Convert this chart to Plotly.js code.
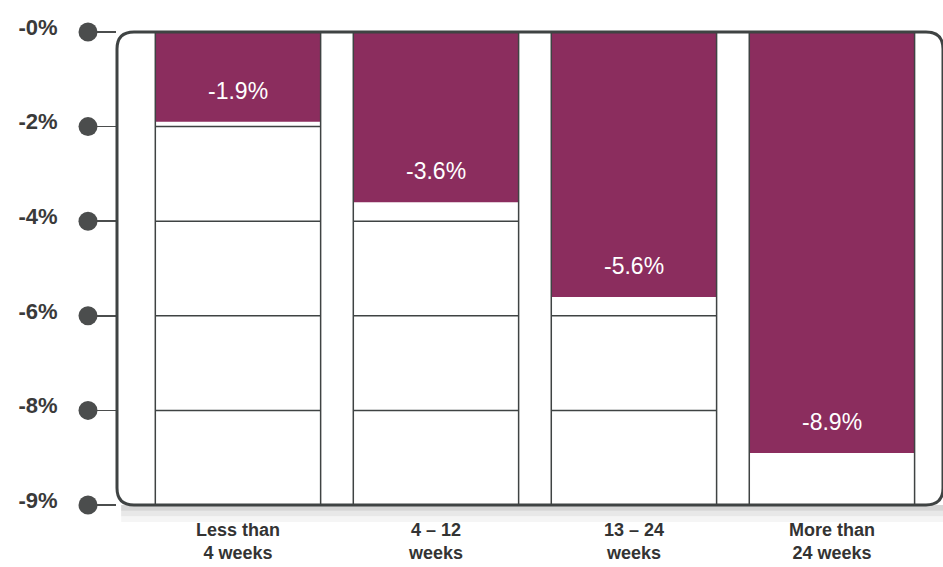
<!DOCTYPE html>
<html>
<head>
<meta charset="utf-8">
<script src="https://cdn.plot.ly/plotly-3.0.1.min.js"></script>
<style>
html,body{margin:0;padding:0;background:#fff;}
#chart{width:943px;height:567px;}
</style>
</head>
<body>
<div id="chart"></div>
<script>
// ---- data ----
const categories = ['Less than<br>4 weeks', '4 – 12<br>weeks', '13 – 24<br>weeks', 'More than<br>24 weeks'];
const values = [-1.9, -3.6, -5.6, -8.9];
const yTickVals = [0, -2, -4, -6, -8, -10];
const yTickText = ['-0%', '-2%', '-4%', '-6%', '-8%', '-9%'];
const gridVals = [-2, -4, -6, -8];

// ---- style ----
const purple = '#8b2d5e';
const dark = '#3f4343';
const yMin = -10, yMax = 0;
const colWidth = 0.835;
const xIdx = categories.map((_, i) => i);
const fam = 'Liberation Sans, Arial, sans-serif';

const traces = [
  {
    type: 'bar', x: xIdx, y: values, width: colWidth,
    marker: {color: purple, line: {width: 0}},
    hoverinfo: 'skip', showlegend: false
  },
  {
    type: 'bar', x: xIdx, y: categories.map(() => yMin), width: colWidth,
    marker: {color: 'rgba(0,0,0,0)', line: {color: dark, width: 1.5}},
    hoverinfo: 'skip', showlegend: false
  }
];

const shapes = [];
// gridlines inside each column (drawn below, covered by the bars)
xIdx.forEach(i => {
  gridVals.forEach(g => {
    shapes.push({type: 'line', layer: 'below', xref: 'x', yref: 'y',
      x0: i - colWidth / 2, x1: i + colWidth / 2, y0: g, y1: g,
      line: {color: dark, width: 1.5}});
  });
});
// shadow under frame
[[0, -0.012, 0.16], [-0.012, -0.024, 0.09], [-0.024, -0.036, 0.04]].forEach(s => {
  shapes.push({type: 'rect', layer: 'below', xref: 'paper', yref: 'paper',
    x0: 0.005, x1: 1, y0: s[1], y1: s[0], fillcolor: 'rgba(0,0,0,' + s[2] + ')', line: {width: 0}});
});
// rounded frame
const rx = 17 / 826, ry = 17 / 473.5;
shapes.push({type: 'path', layer: 'above', xref: 'paper', yref: 'paper',
  path: `M ${rx},1 L ${1 - rx},1 Q 1,1 1,${1 - ry} L 1,${ry} Q 1,0 ${1 - rx},0 L ${rx},0 Q 0,0 0,${ry} L 0,${1 - ry} Q 0,1 ${rx},1 Z`,
  line: {color: dark, width: 3}});
// tick dots
const dotX = (88 - 117) / 826;
yTickVals.forEach(v => {
  shapes.push({type: 'circle', layer: 'above', xref: 'paper', yref: 'paper',
    xsizemode: 'pixel', ysizemode: 'pixel', xanchor: dotX, yanchor: (v - yMin) / (yMax - yMin),
    x0: -9.5, x1: 9.5, y0: -9.5, y1: 9.5,
    fillcolor: '#4b4d4d', line: {width: 0}});
});

const annotations = values.map((v, i) => ({
  x: i, y: v, xref: 'x', yref: 'y', text: v.toFixed(1) + '%',
  showarrow: false, yanchor: 'middle', yshift: 31,
  font: {family: fam, size: 23, color: '#ffffff'}
}));

const layout = {
  width: 943, height: 567,
  margin: {l: 117, r: 0, t: 31.5, b: 62},
  paper_bgcolor: '#ffffff', plot_bgcolor: '#ffffff',
  barmode: 'overlay',
  showlegend: false,
  xaxis: {
    range: [-0.611, 3.561], tickvals: xIdx, ticktext: categories,
    showgrid: false, zeroline: false, showline: false, ticks: '',
    ticklabelstandoff: 12,
    tickfont: {family: fam, size: 18, color: '#333333', weight: 'bold'},
    fixedrange: true
  },
  yaxis: {
    range: [yMin, yMax], tickvals: yTickVals, ticktext: yTickText,
    showgrid: false, zeroline: false, showline: false,
    ticks: 'outside', ticklen: 22, tickwidth: 1.5, tickcolor: '#4b4d4d',
    ticklabelstandoff: 32, ticklabelshift: -5,
    tickfont: {family: fam, size: 22, color: '#3a3a3a', weight: 'bold'},
    fixedrange: true
  },
  shapes: shapes,
  annotations: annotations
};

Plotly.newPlot('chart', traces, layout, {displayModeBar: false, staticPlot: true});
</script>
</body>
</html>
